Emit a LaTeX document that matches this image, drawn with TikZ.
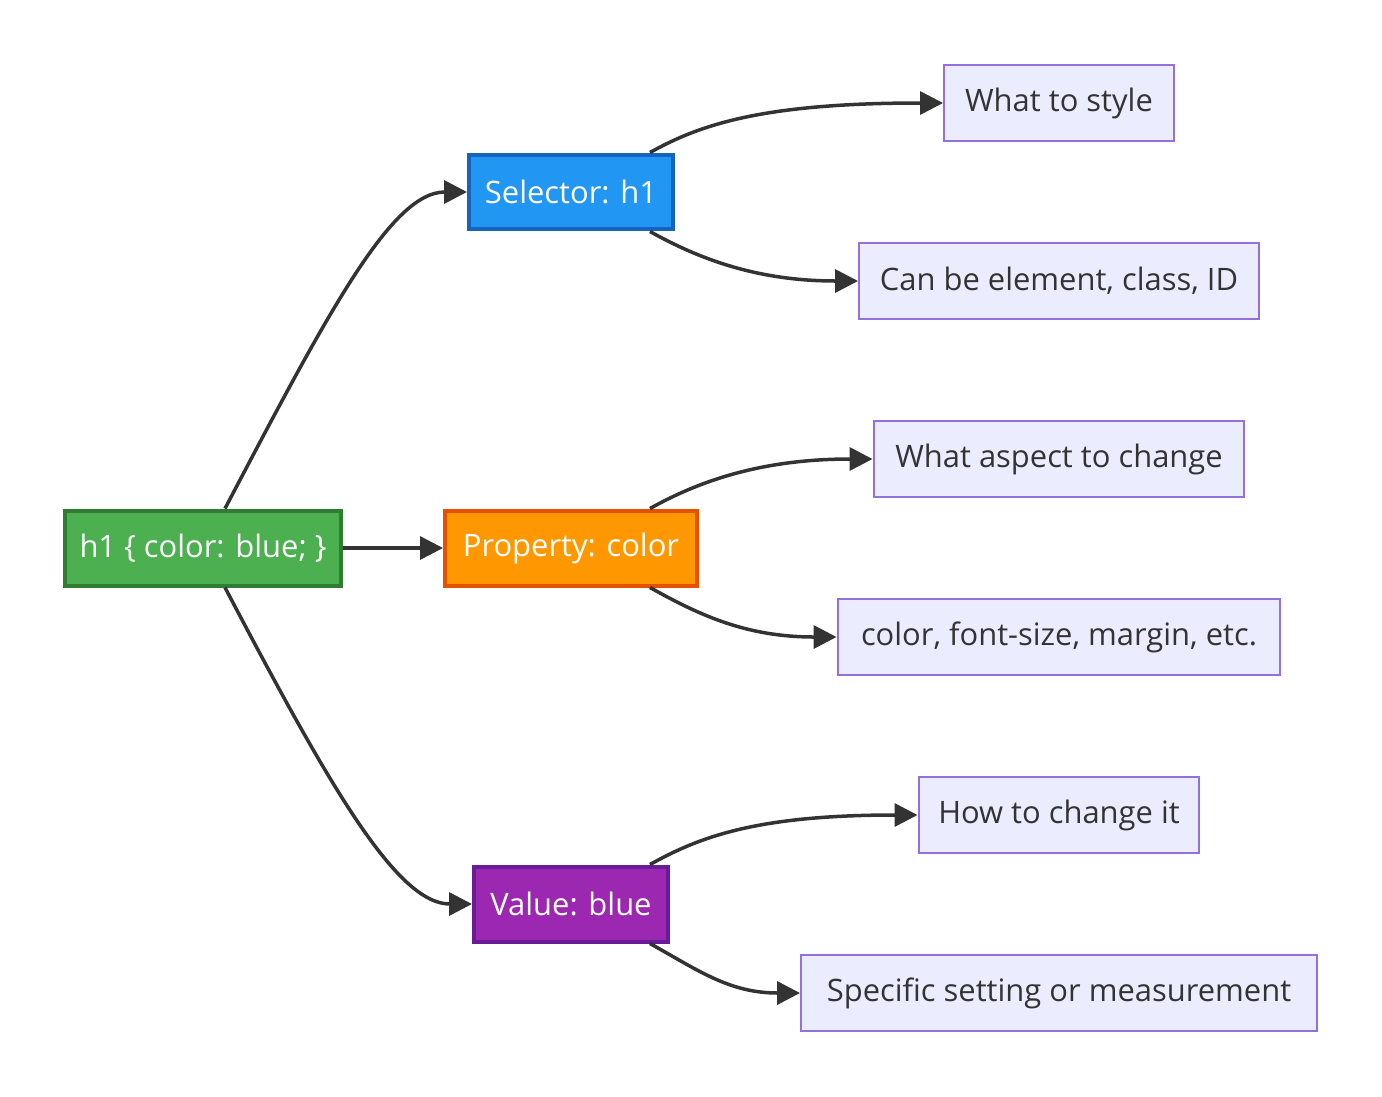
\documentclass[tikz,border=0pt]{standalone}
\usepackage{fontspec}
\setmainfont{Open Sans}
\usepackage{tikz}
\usetikzlibrary{arrows.meta}

\definecolor{rootfill}{HTML}{4CAF50}
\definecolor{rootline}{HTML}{2E7D32}
\definecolor{selfill}{HTML}{2196F3}
\definecolor{selline}{HTML}{1565C0}
\definecolor{propfill}{HTML}{FF9800}
\definecolor{propline}{HTML}{E65100}
\definecolor{valfill}{HTML}{9C27B0}
\definecolor{valline}{HTML}{6A1B9A}
\definecolor{leaffill}{HTML}{ECECFF}
\definecolor{leafline}{HTML}{9370DB}
\definecolor{ink}{HTML}{333333}

\tikzset{
  part/.style={draw, line width=0.08cm, text=white, minimum height=1.5cm, inner sep=0pt, font=\fontsize{17.6}{21}\selectfont},
  leaf/.style={draw=leafline, fill=leaffill, line width=0.04cm, text=ink, minimum height=1.52cm, inner sep=0pt, font=\fontsize{17.6}{21}\selectfont},
  link/.style={draw=ink, line width=0.07cm, -{Triangle[length=0.46cm,width=0.46cm]}}
}

\begin{document}
\begin{tikzpicture}[x=0.02cm, y=-0.02cm]

		\useasboundingbox (0,0) rectangle (1382,1096);

		% main rule and its three parts
		\node[part, fill=rootfill, draw=rootline, minimum width=5.52cm] (rule) at (203,548) {h1 \{ color: blue; \}};
		\node[part, fill=selfill, draw=selline, minimum width=4.08cm] (sel) at (571,192) {Selector: h1};
		\node[part, fill=propfill, draw=propline, minimum width=5.04cm] (prop) at (571,548) {Property: color};
		\node[part, fill=valfill, draw=valline, minimum width=3.88cm] (val) at (571,904) {Value: blue};

		% notes
		\node[leaf, minimum width=4.6cm] (selwhat) at (1059,103) {What to style};
		\node[leaf, minimum width=8cm] (selkind) at (1059,281) {Can be element, class, ID};
		\node[leaf, minimum width=7.42cm] (propwhat) at (1059,459) {What aspect to change};
		\node[leaf, minimum width=8.86cm] (propkind) at (1059,637) {color, font-size, margin, etc.};
		\node[leaf, minimum width=5.62cm] (valwhat) at (1059,815) {How to change it};
		\node[leaf, minimum width=10.32cm] (valkind) at (1059,993) {Specific setting or measurement};

		\draw[link] ([xshift=0.44cm]rule.north) .. controls +(105,-200) and +(-75,0) .. (sel.west);
		\draw[link] (rule.east) -- (prop.west);
		\draw[link] ([xshift=0.44cm]rule.south) .. controls +(105,200) and +(-75,0) .. (val.west);

		\draw[link] ([xshift=1.58cm]sel.north) .. controls +(50,-28) and +(-180,0) .. (selwhat.west);
		\draw[link] ([xshift=1.58cm]sel.south) .. controls +(50,28) and +(-100,0) .. (selkind.west);
		\draw[link] ([xshift=1.58cm]prop.north) .. controls +(50,-28) and +(-110,0) .. (propwhat.west);
		\draw[link] ([xshift=1.58cm]prop.south) .. controls +(50,28) and +(-90,0) .. (propkind.west);
		\draw[link] ([xshift=1.58cm]val.north) .. controls +(50,-28) and +(-160,0) .. (valwhat.west);
		\draw[link] ([xshift=1.58cm]val.south) .. controls +(50,28) and +(-70,0) .. (valkind.west);
	\end{tikzpicture}
\end{document}
